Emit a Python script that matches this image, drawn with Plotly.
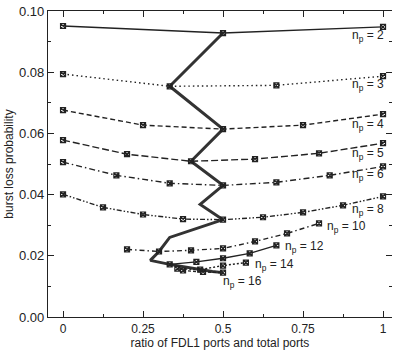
import plotly.graph_objects as go

# Burst loss probability versus FDL1 port ratio, one curve per n_p
x_np2 = [0, 1/2, 1]
y_np2 = [0.0951, 0.0928, 0.0948]

x_np3 = [0, 1/3, 2/3, 1]
y_np3 = [0.0794, 0.0754, 0.0757, 0.0787]

x_np4 = [0, 1/4, 2/4, 3/4, 1]
y_np4 = [0.0676, 0.0627, 0.0614, 0.0627, 0.0663]

x_np5 = [0, 1/5, 2/5, 3/5, 4/5, 1]
y_np5 = [0.0578, 0.0532, 0.0509, 0.0516, 0.0535, 0.0568]

x_np6 = [0, 1/6, 2/6, 3/6, 4/6, 5/6, 1]
y_np6 = [0.0506, 0.0463, 0.0437, 0.0430, 0.0440, 0.0463, 0.0492]

x_np8 = [0, 1/8, 2/8, 3/8, 4/8, 5/8, 6/8, 7/8, 1]
y_np8 = [0.0401, 0.0358, 0.0335, 0.0320, 0.0318, 0.0326, 0.0342, 0.0365, 0.0394]

x_np10 = [0.2, 0.3, 0.4, 0.5, 0.6, 0.7, 0.8]
y_np10 = [0.0221, 0.0214, 0.0218, 0.0224, 0.0247, 0.0273, 0.0306]

x_np12 = [4/12, 5/12, 6/12, 7/12, 8/12]
y_np12 = [0.0172, 0.0180, 0.0192, 0.0208, 0.0234]

x_np14 = [5/14, 6/14, 7/14, 8/14]
y_np14 = [0.0158, 0.0155, 0.0168, 0.0178]

x_np16 = [6/16, 7/16, 8/16]
y_np16 = [0.0152, 0.0147, 0.0145]

# optimum ratio (minimum loss) for each n_p = 2 .. 16
x_opt = [1/2, 1/3, 1/2, 2/5, 1/2, 3/7, 1/2, 1/3, 3/10, 3/11, 1/3, 5/13, 6/14, 7/15, 1/2]
y_opt = [0.0928, 0.0754, 0.0614, 0.0509, 0.0430, 0.0368, 0.0318, 0.0260, 0.0214,
         0.0185, 0.0172, 0.0162, 0.0155, 0.0149, 0.0145]

curve_labels = ["2", "3", "4", "5", "6", "8", "10", "12", "14", "16"]
label_x = [0.897, 0.897, 0.897, 0.897, 0.897, 0.897, 0.819, 0.688, 0.594, 0.494]
label_y = [0.0918, 0.0758, 0.0627, 0.0532, 0.0463, 0.0349, 0.0293, 0.0228, 0.0169, 0.0113]

series = [
    (x_np2, y_np2, "solid"),
    (x_np3, y_np3, "1.5px,3px"),
    (x_np4, y_np4, "5px,3px"),
    (x_np5, y_np5, "7px,3px"),
    (x_np6, y_np6, "6px,3px,1.5px,3px"),
    (x_np8, y_np8, "5px,2px,1.5px,2px,1.5px,2px"),
    (x_np10, y_np10, "5px,3px,1.5px,3px"),
    (x_np12, y_np12, "solid"),
    (x_np14, y_np14, "2px,2px"),
    (x_np16, y_np16, "3px,2px"),
]

ink = "#222222"
font_family = "Liberation Sans, Arial, sans-serif"

fig = go.Figure()

fig.add_trace(go.Scatter(
    x=x_opt, y=y_opt, mode="lines",
    line=dict(color="#333333", width=3),
    showlegend=False, hoverinfo="skip",
))

for xs, ys, dash in series:
    fig.add_trace(go.Scatter(
        x=xs, y=ys, mode="lines+markers",
        line=dict(color=ink, width=1.4, dash=dash),
        marker=dict(symbol="square-x-open", size=5,
                    line=dict(color="#555555", width=1.2)),
        showlegend=False,
    ))

# invisible trace that carries the right-hand tick axis
fig.add_trace(go.Scatter(x=[0], y=[0], yaxis="y2", mode="markers",
                         marker=dict(opacity=0), showlegend=False, hoverinfo="skip"))

for lab, lx, ly in zip(curve_labels, label_x, label_y):
    fig.add_annotation(
        x=lx, y=ly, xref="x", yref="y",
        text=f"n<sub>p</sub> = {lab}",
        showarrow=False, xanchor="left", yanchor="middle",
        font=dict(family=font_family, size=12, color=ink),
    )

fig.update_layout(
    width=396, height=355,
    margin=dict(l=48, r=4, t=11, b=38),
    paper_bgcolor="white", plot_bgcolor="white",
    font=dict(family=font_family, size=12, color=ink),
    xaxis=dict(
        range=[-0.047, 1.028],
        tickvals=[0, 0.25, 0.5, 0.75, 1],
        ticktext=["0", "0.25", "0.5", "0.75", "1"],
        ticks="inside", ticklen=6, tickwidth=1.2, tickcolor=ink,
        minor=dict(ticks="inside", dtick=0.125, tick0=0, ticklen=3, tickcolor=ink),
        showline=True, linecolor=ink, linewidth=1.3, mirror="ticks",
        showgrid=False, zeroline=False,
        tickfont=dict(size=12),
        title=dict(text="ratio of FDL1 ports and total ports", font=dict(size=12), standoff=4),
    ),
    yaxis=dict(
        range=[0, 0.1],
        tickvals=[0, 0.02, 0.04, 0.06, 0.08, 0.1],
        ticktext=["0.00", "0.02", "0.04", "0.06", "0.08", "0.10"],
        ticks="inside", ticklen=6, tickwidth=1.2, tickcolor=ink,
        minor=dict(ticks="inside", dtick=0.01, tick0=0, ticklen=3, tickcolor=ink),
        showline=True, linecolor=ink, linewidth=1.3,
        showgrid=False, zeroline=False,
        tickfont=dict(size=13),
        title=dict(text="burst loss probability", font=dict(size=12), standoff=2),
    ),
    yaxis2=dict(
        overlaying="y", side="right", matches="y",
        range=[0, 0.1],
        tickvals=[0, 0.02, 0.04, 0.06, 0.08, 0.1],
        showticklabels=False, showline=False, showgrid=False, zeroline=False,
        ticks="inside", ticklen=6, tickwidth=1.2, tickcolor=ink,
        minor=dict(ticks="inside", dtick=0.01, tick0=0, ticklen=3, tickcolor=ink),
    ),
)

fig.write_html("out.html")
